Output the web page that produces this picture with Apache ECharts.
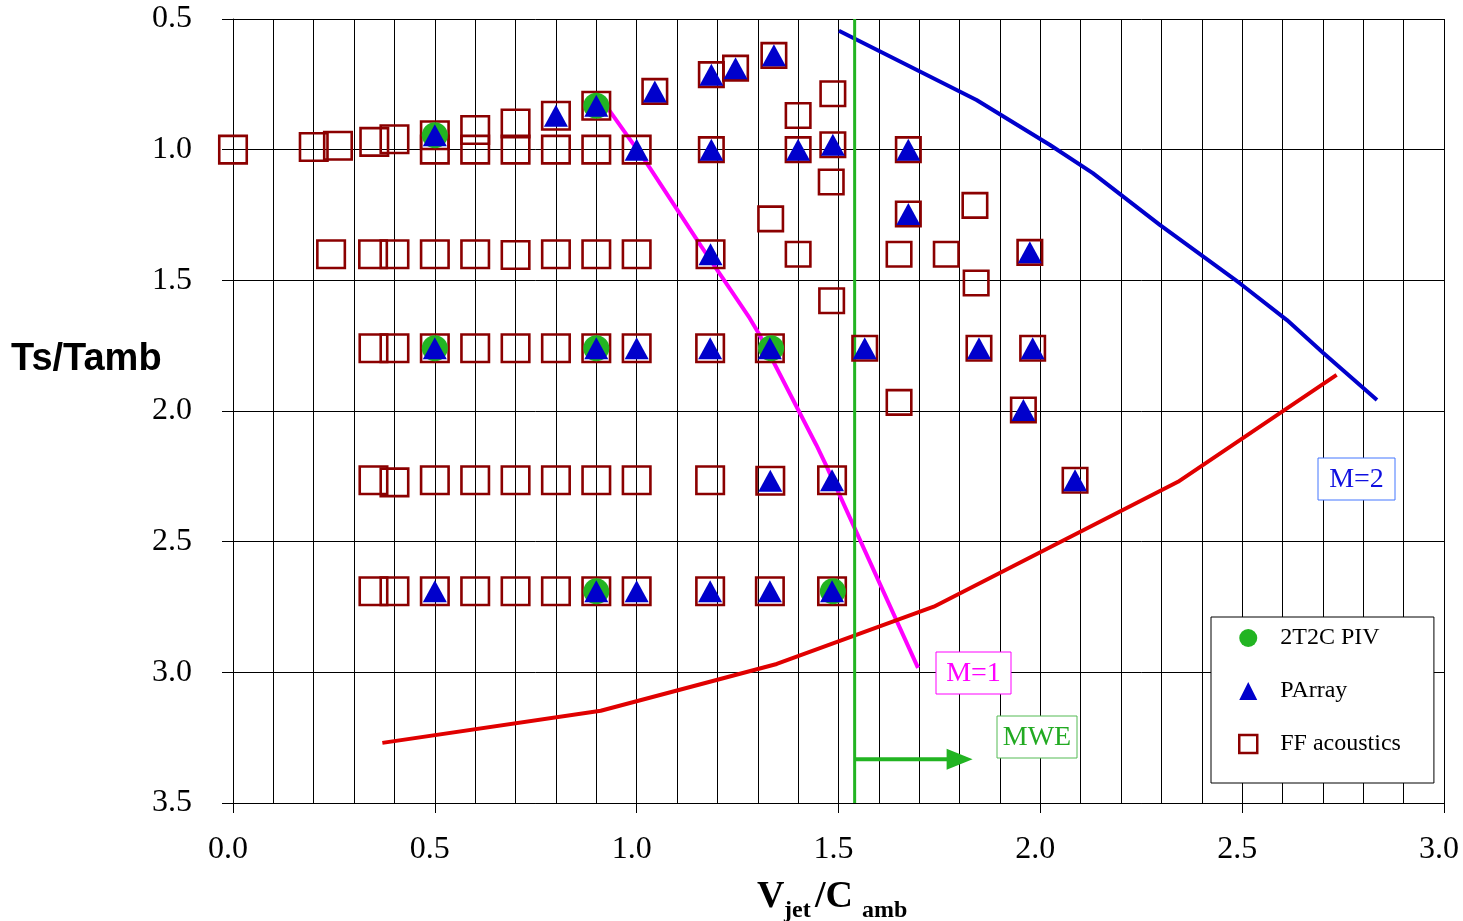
<!DOCTYPE html>
<html><head><meta charset="utf-8">
<script src="https://cdn.jsdelivr.net/npm/echarts@6/dist/echarts.min.js"></script>
<style>html,body{margin:0;padding:0;background:#fff}#c{width:1463px;height:921px}</style>
</head><body><div id="c"></div>
<script>
// ---- tick labels ----
const xTickLabels = ['0.0','0.5','1.0','1.5','2.0','2.5','3.0'];
const yTickLabels = ['0.5','1.0','1.5','2.0','2.5','3.0','3.5'];

// ---- measurement points [Vjet/Camb, Ts/Tamb] ----
const piv2t2c = [[0.5,0.945],[0.9,0.832],[0.5,1.76],[0.9,1.76],[1.333,1.76],[0.9,2.69],[1.486,2.69]];

const pArray = [
  [0.5,0.945],[0.8,0.87],[0.9,0.832],[1.045,0.777],[1.185,0.713],[1.245,0.688],[1.34,0.639],
  [1.0,1.0],[1.185,1.0],[1.40,1.0],[1.486,0.981],[1.673,1.0],[1.673,1.246],
  [1.183,1.40],[1.974,1.393],
  [0.5,1.76],[0.9,1.76],[1.0,1.76],[1.182,1.76],[1.33,1.76],[1.565,1.76],[1.848,1.76],[1.981,1.76],
  [1.958,1.996],
  [1.331,2.267],[1.484,2.265],[2.086,2.265],
  [0.5,2.69],[0.9,2.69],[1.0,2.69],[1.182,2.69],[1.33,2.69],[1.484,2.69]
];

// FF acoustics, first campaign (larger markers)
const ffAcousticsA = [
  [0.0,1.0],[0.2,0.99],[0.26,0.985],[0.35,0.97],[0.40,0.96],[0.5,0.945],[0.5,1.0],[0.6,0.925],[0.6,1.0],
  [0.7,0.9],[0.7,1.0],[0.8,0.87],[0.8,1.0],[0.9,0.832],[0.9,1.0],[1.0,1.0],
  [0.243,1.40],[0.347,1.40],[0.40,1.40],[0.5,1.40],[0.6,1.40],[0.7,1.403],[0.8,1.40],[0.9,1.40],[1.0,1.40],[1.183,1.40],
  [0.348,1.76],[0.40,1.76],[0.5,1.76],[0.6,1.76],[0.7,1.76],[0.8,1.76],[0.9,1.76],[1.0,1.76],[1.182,1.76],[1.33,1.76],
  [0.348,2.265],[0.40,2.273],[0.5,2.265],[0.6,2.265],[0.7,2.265],[0.8,2.265],[0.9,2.265],[1.0,2.265],[1.182,2.265],[1.331,2.267],[1.484,2.265],
  [0.348,2.69],[0.40,2.69],[0.5,2.69],[0.6,2.69],[0.7,2.69],[0.8,2.69],[0.9,2.69],[1.0,2.69],[1.182,2.69],[1.33,2.69],[1.484,2.69]
];
// FF acoustics, second campaign (smaller markers)
const ffAcousticsB = [
  [1.045,0.777],[1.185,0.713],[1.245,0.688],[1.34,0.639],[1.486,0.786],[1.40,0.869],
  [1.185,1.0],[1.40,1.0],[1.486,0.981],[1.673,1.0],[1.482,1.124],[1.673,1.246],[1.838,1.213],[1.332,1.265],
  [1.40,1.40],[1.65,1.40],[1.767,1.40],[1.974,1.393],[1.841,1.51],[1.483,1.578],
  [1.565,1.76],[1.848,1.76],[1.981,1.76],[1.65,1.967],[1.958,1.996],[2.086,2.265]
];

// ---- curves ----
const m1Curve = [[0.93,0.845],[1.02,1.04],[1.16,1.37],[1.28,1.645],[1.305,1.71],[1.445,2.13],[1.47,2.21],[1.697,2.983]];
const m2Curve = [[1.501,0.545],[1.842,0.81],[2.024,0.982],[2.13,1.09],[2.296,1.288],[2.494,1.511],[2.611,1.652],[2.701,1.778],[2.834,1.958]];
const redCurve = [[0.37,3.27],[0.911,3.147],[1.347,2.968],[1.736,2.749],[2.341,2.271],[2.734,1.862]];
const mweLine = [[1.54,0.5],[1.54,3.5]];
const mweArrow = [[1.54,3.333],[1.775,3.333]];
const mweArrowHead = [[1.80,3.333]];

const SERIF = '"Liberation Serif","Times New Roman",serif';
const SANS = '"Liberation Sans",Arial,sans-serif';

const chart = echarts.init(document.getElementById('c'), null, {renderer:'canvas'});

const lineSeries = (name, data, color, width) => ({
  name, type:'line', data, showSymbol:false, symbol:'none', silent:true, z:2,
  lineStyle:{color, width, opacity:1}, animation:false
});

chart.setOption({
  animation:false,
  grid:{left:233, right:19, top:19, bottom:118, containLabel:false, outerBoundsMode:'none'},
  xAxis:{
    type:'value', min:0, max:3, interval:0.5,
    axisLine:{show:true, onZero:false, lineStyle:{color:'#000', width:1}},
    axisTick:{show:true, inside:false, length:10, lineStyle:{color:'#000'}},
    axisLabel:{margin:31, fontFamily:SERIF, fontSize:32, color:'#000', padding:[0,10,0,0],
      formatter:(v)=>xTickLabels[Math.round(v/0.5)]},
    splitLine:{show:true, lineStyle:{color:'#000', width:1}},
    minorTick:{show:false, splitNumber:5},
    minorSplitLine:{show:true, lineStyle:{color:'#000', width:1}}
  },
  yAxis:{
    type:'value', min:0.5, max:3.5, interval:0.5, inverse:true,
    axisLine:{show:true, onZero:false, lineStyle:{color:'#000', width:1}},
    axisTick:{show:true, inside:false, length:11, lineStyle:{color:'#000'}},
    axisLabel:{margin:41, fontFamily:SERIF, fontSize:32, color:'#000',
      formatter:(v)=>yTickLabels[Math.round((v-0.5)/0.5)]},
    splitLine:{show:true, lineStyle:{color:'#000', width:1}}
  },
  legend:{
    orient:'vertical', left:1211, top:617,
    padding:[9,33,27,27], itemGap:29, itemWidth:18, itemHeight:18,
    borderColor:'#000', borderWidth:1, backgroundColor:'#fff', borderRadius:0,
    selectedMode:false,
    textStyle:{fontFamily:SERIF, fontSize:24, color:'#000', padding:[0,0,0,18]},
    data:[
      {name:'2T2C PIV', icon:'circle', itemStyle:{color:'#22b422', borderWidth:0, opacity:1}},
      {name:'PArray', icon:'triangle', itemStyle:{color:'#0000cc', borderWidth:0, opacity:1}},
      {name:'FF acoustics', icon:'rect', itemStyle:{color:'rgba(0,0,0,0)', borderColor:'#8b0000', borderWidth:2.5, opacity:1}}
    ]
  },
  series:[
    lineSeries('M1', m1Curve, '#ff00ff', 4),
    lineSeries('M2', m2Curve, '#0000cc', 4),
    lineSeries('Red', redCurve, '#e00000', 4),
    lineSeries('MWE', mweLine, '#22b422', 3),
    lineSeries('MWEArrow', mweArrow, '#22b422', 4),
    {name:'MWEHead', type:'scatter', data:mweArrowHead, symbol:'triangle', symbolRotate:-90,
      symbolSize:[21,26], itemStyle:{color:'#22b422', opacity:1}, silent:true, z:3},
    {name:'FF acoustics', type:'scatter', data:ffAcousticsA, symbol:'rect', symbolSize:27.5,
      itemStyle:{color:'rgba(0,0,0,0)', borderColor:'#8b0000', borderWidth:2.6, opacity:1}, silent:true, z:4},
    {name:'FF acoustics', type:'scatter', data:ffAcousticsB, symbol:'rect', symbolSize:24.5,
      itemStyle:{color:'rgba(0,0,0,0)', borderColor:'#8b0000', borderWidth:2.6, opacity:1}, silent:true, z:4},
    {name:'2T2C PIV', type:'scatter', data:piv2t2c, symbol:'circle', symbolSize:26,
      itemStyle:{color:'#22b422', opacity:1}, silent:true, z:5},
    {name:'PArray', type:'scatter', data:pArray, symbol:'triangle', symbolSize:[24,22],
      itemStyle:{color:'#0000cc', opacity:1}, silent:true, z:6}
  ],
  graphic:[
    {type:'text', left:11, top:341, style:{text:'Ts/Tamb', font:'bold 38px '+SANS, fill:'#000'}},
    {type:'text', left:757, top:878, style:{text:'V', font:'bold 38px '+SERIF, fill:'#000'}},
    {type:'text', left:784, top:899, style:{text:'jet', font:'bold 24px '+SERIF, fill:'#000'}},
    {type:'text', left:815, top:878, style:{text:'/C', font:'bold 38px '+SERIF, fill:'#000'}},
    {type:'text', left:862, top:899, style:{text:'amb', font:'bold 24px '+SERIF, fill:'#000'}},
    {type:'rect', shape:{x:936, y:652, width:75, height:42}, style:{fill:'#fff', stroke:'#ff00ff', lineWidth:1}, z:10},
    {type:'text', x:973.5, y:674, z:11, style:{text:'M=1', font:'28px '+SERIF, fill:'#ff00ff', align:'center', verticalAlign:'middle'}},
    {type:'rect', shape:{x:997, y:716, width:80, height:42}, style:{fill:'#fff', stroke:'#55bb55', lineWidth:1}, z:10},
    {type:'text', x:1037, y:738, z:11, style:{text:'MWE', font:'28px '+SERIF, fill:'#22aa22', align:'center', verticalAlign:'middle'}},
    {type:'rect', shape:{x:1318, y:458, width:77, height:42}, style:{fill:'#fff', stroke:'#4477ff', lineWidth:1}, z:10},
    {type:'text', x:1356.5, y:480, z:11, style:{text:'M=2', font:'28px '+SERIF, fill:'#1010e0', align:'center', verticalAlign:'middle'}}
  ]
});
</script></body></html>
